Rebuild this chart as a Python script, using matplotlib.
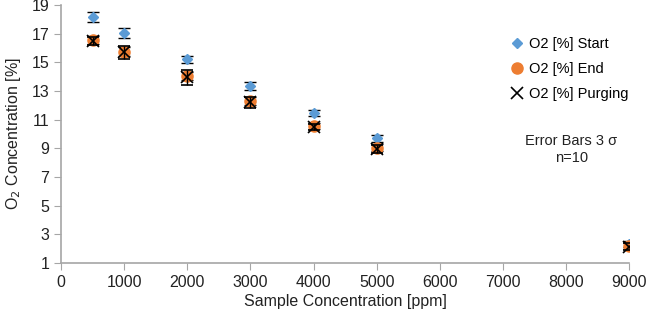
import matplotlib.pyplot as plt

plt.rcParams['font.family'] = ['Liberation Sans', 'DejaVu Sans']

conc = [500, 1000, 2000, 3000, 4000, 5000, 9000]
o2_start = [18.15, 17.05, 15.2, 13.35, 11.45, 9.7, 2.35]
o2_end = [16.55, 15.75, 14.05, 12.3, 10.55, 9.05, 2.2]
o2_purge = [16.5, 15.7, 13.95, 12.2, 10.5, 8.95, 2.15]
err_start = [0.35, 0.33, 0.25, 0.25, 0.2, 0.25, 0.2]
err_end = [0.3, 0.3, 0.3, 0.3, 0.2, 0.25, 0.2]
err_purge = [0.3, 0.47, 0.52, 0.35, 0.2, 0.3, 0.25]

fig = plt.figure(figsize=(6.46, 3.11), dpi=100)
ax = fig.add_axes([0.0944, 0.154, 0.8796, 0.83])

ax.errorbar(conc, o2_start, yerr=err_start, fmt='D', color='#5B9BD5', ms=5,
            ecolor='black', elinewidth=1, capsize=4, label='O2 [%] Start', zorder=3)
ax.errorbar(conc, o2_end, yerr=err_end, fmt='o', color='#ED7D31', ms=8,
            ecolor='black', elinewidth=1, capsize=4, label='O2 [%] End', zorder=3)
ax.errorbar(conc, o2_purge, yerr=err_purge, fmt='x', color='black', ms=8, mew=1.2,
            ecolor='black', elinewidth=1, capsize=4, label='O2 [%] Purging', zorder=4)

ax.set_xlim(0, 9000)
ax.set_ylim(1, 19)
ax.set_xticks(range(0, 9001, 1000))
ax.set_yticks(range(1, 20, 2))
for s in ['top', 'right']:
    ax.spines[s].set_visible(False)
for s in ['left', 'bottom']:
    ax.spines[s].set_color('#A6A6A6')
    ax.spines[s].set_linewidth(1.2)
ax.tick_params(colors='#A6A6A6', labelcolor='#222222', labelsize=11.5, length=5, direction='out')

ax.set_xlabel('Sample Concentration [ppm]', fontsize=11.5, color='#222222', labelpad=3)
ax.set_ylabel('O$_2$ Concentration [%]', fontsize=11.5, color='#222222', labelpad=6)

handles, labels = ax.get_legend_handles_labels()
handles = [h[0] for h in handles]
ax.legend(handles, labels, loc='upper right', bbox_to_anchor=(1.022, 0.925), frameon=False,
          fontsize=10.5, handletextpad=0.2, labelspacing=0.75, handlelength=1.2)

ax.text(0.898, 0.44, 'Error Bars 3 σ\nn=10', transform=ax.transAxes, ha='center', va='center',
        fontsize=10.5, color='#222222', linespacing=1.25)

fig.savefig('out.png', dpi=100)
